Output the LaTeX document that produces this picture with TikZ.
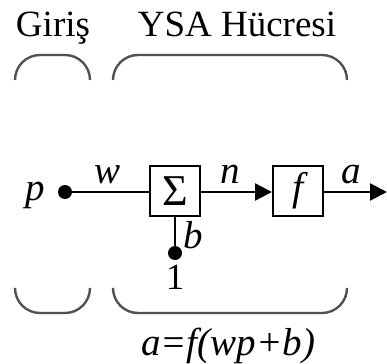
\documentclass[tikz,border=0pt]{standalone}
\usepackage{fontspec}
\setmainfont{Liberation Serif}[ItalicFont={Liberation Serif Italic}]
\usetikzlibrary{arrows.meta}
\begin{document}
\begin{tikzpicture}[x=1pt,y=-1pt,
  lbl/.style={font=\fontsize{37}{40}\selectfont, inner sep=0pt, anchor=base},
  ilbl/.style={font=\fontsize{39}{40}\selectfont\itshape, inner sep=0pt, anchor=base},
  brk/.style={draw=black!68, line width=2.4pt, rounded corners=25pt},
  blk/.style={draw, line width=2pt, minimum width=50pt, minimum height=49pt, inner sep=0pt},
  wire/.style={line width=2.2pt},
  dot/.style={circle, fill, inner sep=0pt, minimum size=14pt},
  arr/.style={wire, -{Triangle[length=17pt,width=17pt]}}]
\useasboundingbox (0,0) rectangle (387,363);
% titles
\node[lbl] (giris) at (53,37) {Giriş};
\node[lbl] (ysa) at (237,37) {YSA Hücresi};
% brackets
\draw[brk] (15,80) -- (15,55) -- (90,55) -- (90,80);
\draw[brk] (113,80) -- (113,55) -- (347,55) -- (347,80);
\draw[brk] (15,290) -- (15,313) -- (90,313) -- (90,290);
\draw[brk] (113,290) -- (113,313) -- (347,313) -- (347,290);
% nodes
\node[dot] (pdot) at (65,192) {};
\node[ilbl] (p) at (35,200) {p};
\node[blk, font=\fontsize{44}{44}\selectfont] (sum) at (175,191) {Σ};
\node[blk, font=\fontsize{40}{40}\selectfont\itshape] (f) at (298,191) {f};
\node[dot] (bdot) at (175,253) {};
\coordinate (out) at (387,192);
\node[ilbl] (w) at (108,183) {w};
\node[ilbl] (n) at (230,183) {n};
\node[ilbl] (a) at (351,183) {a};
\node[ilbl] (b) at (193,248) {b};
\node[lbl] (one) at (175,289) {1};
\node[ilbl] (eq) at (228,355) {a=f(wp+b)};
% connectors
\draw[wire] (pdot.center) -- (sum.west |- pdot.center);
\draw[arr] (sum.east |- pdot.center) -- (f.west |- pdot.center);
\draw[arr] (f.east |- pdot.center) -- (out);
\draw[wire] (sum.south) -- (bdot.center);
\end{tikzpicture}
\end{document}
